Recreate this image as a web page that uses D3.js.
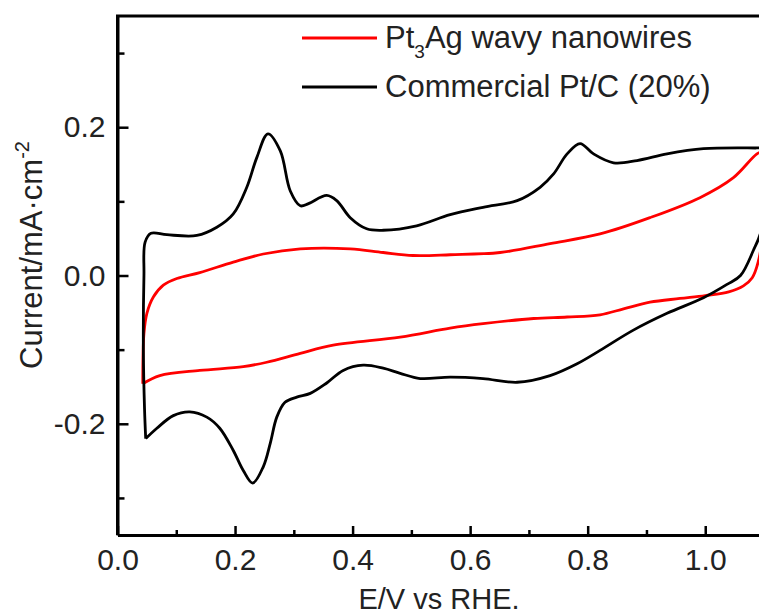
<!DOCTYPE html>
<html>
<head>
<meta charset="utf-8">
<script src="https://cdn.jsdelivr.net/npm/d3@7"></script>
<style>
  body { margin: 0; background: #fff; }
  text { font-family: "Liberation Sans", Arial, sans-serif; fill: #222; }
</style>
</head>
<body>
<script>
// data: [E (V vs RHE), current (mA cm-2)]
let ptcAnodic = [
    [0.048, -0.220], [0.046, -0.180], [0.044, -0.100], [0.045, 0.000], [0.047, 0.045],
    [0.057, 0.057], [0.084, 0.055], [0.135, 0.054], [0.169, 0.065], [0.197, 0.083],
    [0.220, 0.119], [0.237, 0.159], [0.256, 0.191], [0.277, 0.168], [0.294, 0.114],
    [0.311, 0.094], [0.325, 0.097], [0.356, 0.108], [0.373, 0.101], [0.396, 0.078],
    [0.424, 0.063], [0.452, 0.061], [0.509, 0.067], [0.566, 0.082], [0.622, 0.092],
    [0.680, 0.101], [0.719, 0.119], [0.742, 0.137], [0.765, 0.164], [0.787, 0.178],
    [0.810, 0.164], [0.844, 0.152], [0.884, 0.155], [0.935, 0.164], [0.997, 0.171],
    [1.088, 0.172], [1.100, 0.172]
]
let ptcCathodic = [
    [1.100, 0.172], [1.100, 0.110], [1.095, 0.060], [1.082, 0.034], [1.060, 0.000],
    [1.037, -0.012], [0.997, -0.030], [0.935, -0.051], [0.877, -0.074], [0.821, -0.101],
    [0.782, -0.119], [0.736, -0.135], [0.680, -0.144], [0.622, -0.139], [0.566, -0.137],
    [0.515, -0.139], [0.481, -0.132], [0.452, -0.125], [0.418, -0.121], [0.384, -0.128],
    [0.356, -0.145], [0.328, -0.159], [0.305, -0.164], [0.285, -0.171], [0.271, -0.191],
    [0.260, -0.226], [0.248, -0.258], [0.230, -0.280], [0.214, -0.263], [0.197, -0.236],
    [0.174, -0.206], [0.152, -0.191], [0.123, -0.184], [0.095, -0.189], [0.067, -0.206],
    [0.048, -0.220]
]
let pt3agAnodic = [
    [0.043, -0.146], [0.045, -0.078], [0.050, -0.051], [0.061, -0.029], [0.078, -0.013],
    [0.101, -0.004], [0.140, 0.004], [0.197, 0.018], [0.248, 0.029], [0.311, 0.036],
    [0.396, 0.036], [0.452, 0.031], [0.503, 0.027], [0.566, 0.028], [0.651, 0.031],
    [0.736, 0.043], [0.821, 0.056], [0.906, 0.078], [0.991, 0.105], [1.048, 0.132],
    [1.088, 0.164], [1.100, 0.168]
]
let pt3agCathodic = [
    [1.100, 0.168], [1.098, 0.060], [1.090, 0.018], [1.080, -0.003], [1.065, -0.014],
    [1.040, -0.022], [1.000, -0.027], [0.957, -0.031], [0.906, -0.036], [0.861, -0.045],
    [0.821, -0.053], [0.765, -0.056], [0.708, -0.058], [0.622, -0.065], [0.566, -0.071],
    [0.481, -0.083], [0.367, -0.094], [0.311, -0.105], [0.254, -0.117], [0.214, -0.123],
    [0.140, -0.128], [0.072, -0.135], [0.043, -0.146]
]

let xMajor = [0, 0.2, 0.4, 0.6, 0.8, 1.0]
let xMinor = [0.1, 0.3, 0.5, 0.7, 0.9]
let xTickLabels = ["0.0", "0.2", "0.4", "0.6", "0.8", "1.0"]
let yMajor = [-0.2, 0, 0.2]
let yMinor = [-0.3, -0.1, 0.1, 0.3]
let yTickLabels = ["-0.2", "0.0", "0.2"]

let seriesNames = ["Pt3Ag wavy nanowires", "Commercial Pt/C (20%)"]
let seriesColors = ["#ff0000", "#000000"]

// setup canvas
let width = 759
let height = 616
let plotLeft = 117.5, plotRight = 764, plotTop = 16, plotBottom = 535

let svg = d3.select("body").append("svg")
    .attr("width", width)
    .attr("height", height)

let x = d3.scaleLinear().domain([0, 1.1]).range([plotLeft, plotRight])
let y = d3.scaleLinear().domain([-0.35, 0.35]).range([plotBottom, plotTop])

let line = d3.line()
    .x(d => x(d[0]))
    .y(d => y(d[1]))
    .curve(d3.curveCatmullRom.alpha(0.5))

// curves
let curves = [
    { data: pt3agAnodic, color: seriesColors[0] },
    { data: pt3agCathodic, color: seriesColors[0] },
    { data: ptcAnodic, color: seriesColors[1] },
    { data: ptcCathodic, color: seriesColors[1] }
]
svg.append("g")
    .selectAll("path")
    .data(curves)
    .enter()
    .append("path")
        .attr("d", d => line(d.data))
        .attr("fill", "none")
        .attr("stroke", d => d.color)
        .attr("stroke-width", 2.8)
        .attr("stroke-linejoin", "round")

// axes, ticks pointing inwards
svg.append("g")
    .attr("transform", `translate(0,${plotBottom})`)
    .call(d3.axisBottom(x).tickValues(xMajor).tickSize(-9).tickSizeOuter(0).tickPadding(14)
        .tickFormat((d, i) => xTickLabels[i]))
svg.append("g")
    .attr("transform", `translate(0,${plotBottom})`)
    .call(d3.axisBottom(x).tickValues(xMinor).tickSize(-5).tickFormat(""))
    .select(".domain").remove()

svg.append("g")
    .attr("transform", `translate(${plotLeft},0)`)
    .call(d3.axisLeft(y).tickValues(yMajor).tickSize(-11).tickSizeOuter(0).tickPadding(12)
        .tickFormat((d, i) => yTickLabels[i]))
svg.append("g")
    .attr("transform", `translate(${plotLeft},0)`)
    .call(d3.axisLeft(y).tickValues(yMinor).tickSize(-7).tickFormat(""))
    .select(".domain").remove()

svg.selectAll(".domain").attr("stroke", "#000").attr("stroke-width", 3)
svg.selectAll(".tick line").attr("stroke", "#000").attr("stroke-width", 2.5)
svg.selectAll(".tick text")
    .attr("font-size", 30)
    .attr("font-family", "Liberation Sans, Arial, sans-serif")
    .attr("fill", "#222")

// top frame line
svg.append("line")
    .attr("x1", plotLeft - 1.5).attr("x2", plotRight)
    .attr("y1", plotTop).attr("y2", plotTop)
    .attr("stroke", "#000")
    .attr("stroke-width", 3)
svg.append("line")
    .attr("x1", plotLeft).attr("x2", plotLeft)
    .attr("y1", plotTop).attr("y2", plotBottom)
    .attr("stroke", "#000")
    .attr("stroke-width", 3)

// axis titles
svg.append("text")
    .attr("x", 439)
    .attr("y", 609)
    .attr("text-anchor", "middle")
    .attr("font-size", 29)
    .text("E/V vs RHE.")

let yTitle = svg.append("text")
    .attr("transform", "translate(42,255) rotate(-90)")
    .attr("text-anchor", "middle")
    .attr("font-size", 31)
yTitle.append("tspan").text("Current/mA\u00b7cm")
yTitle.append("tspan").attr("font-size", 20).attr("dy", -13).text("-2")

// legend
let legend = svg.append("g")
legend.selectAll("line")
    .data(seriesColors)
    .enter()
    .append("line")
        .attr("x1", 302).attr("x2", 377)
        .attr("y1", (d, i) => 38 + i * 49)
        .attr("y2", (d, i) => 38 + i * 49)
        .attr("stroke", d => d)
        .attr("stroke-width", 2.8)

let t1 = legend.append("text")
    .attr("x", 385).attr("y", 48)
    .attr("font-size", 31)
t1.append("tspan").text("Pt")
t1.append("tspan").attr("font-size", 19).attr("dy", 10).text("3")
t1.append("tspan").attr("dy", -10).text("Ag wavy nanowires")

legend.append("text")
    .attr("x", 385).attr("y", 97)
    .attr("font-size", 31)
    .text(seriesNames[1])
</script>
</body>
</html>
